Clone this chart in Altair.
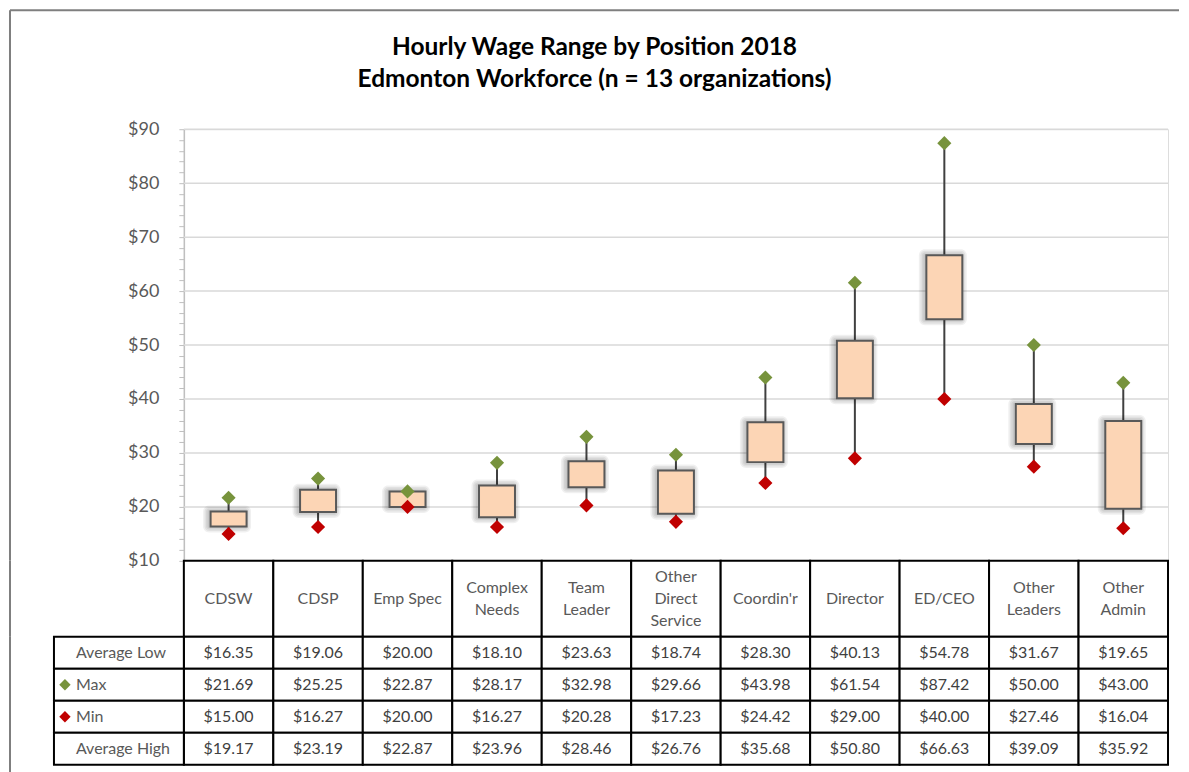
import altair as alt
import pandas as pd

# ---------------- data ----------------
categories = ["CDSW", "CDSP", "Emp Spec", "Complex Needs", "Team Leader",
              "Other Direct Service", "Coordin'r", "Director", "ED/CEO",
              "Other Leaders", "Other Admin"]
header_labels = ["CDSW", "CDSP", "Emp Spec", "Complex\nNeeds", "Team\nLeader",
                 "Other\nDirect\nService", "Coordin'r", "Director", "ED/CEO",
                 "Other\nLeaders", "Other\nAdmin"]
avg_low = [16.35, 19.06, 20.00, 18.10, 23.63, 18.74, 28.30, 40.13, 54.78, 31.67, 19.65]
max_wage = [21.69, 25.25, 22.87, 28.17, 32.98, 29.66, 43.98, 61.54, 87.42, 50.00, 43.00]
min_wage = [15.00, 16.27, 20.00, 16.27, 20.28, 17.23, 24.42, 29.00, 40.00, 27.46, 16.04]
avg_high = [19.17, 23.19, 22.87, 23.96, 28.46, 26.76, 35.68, 50.80, 66.63, 39.09, 35.92]
row_names = ["Average Low", "Max", "Min", "Average High"]
y_major = list(range(10, 91, 10))
y_minor = list(range(10, 91, 2))

title_lines = ["Hourly Wage Range by Position 2018",
               "Edmonton Workforce (n = 13 organizations)"]

# ---------------- layout / style ----------------
FONT = "Lato"
PLOT_W = 985
PLOT_H = 432
HEAD_H = 76
ROW_H = 32
LINE_H = 22
LABEL_W = 130
FRAME_X = -174
FRAME_TOP = -119
FRAME_RIGHT = 996
GREEN = "#77933C"
RED = "#C00000"
BOX_FILL = "#FCD5B5"

n_lines = [h.count("\n") + 1 for h in header_labels]
df = pd.DataFrame({"category": categories, "header": header_labels,
                   "first_line": [(n - 1) / 2 for n in n_lines],
                   "low": avg_low, "max": max_wage, "min": min_wage,
                   "high": avg_high})
one = pd.DataFrame({"frame": [1]})

xscale = alt.Scale(domain=categories, paddingInner=0, paddingOuter=0)
X = alt.X("category:N", scale=xscale, axis=None)
yscale = alt.Scale(domain=[10, 90], nice=False, zero=False)

yaxis = alt.Axis(values=y_minor, orient="left",
                 labelExpr="datum.value % 10 == 0 ? '$' + datum.value : ''",
                 grid=False, domainColor="#BFBFBF", domainWidth=1.5,
                 tickColor="#BFBFBF", tickSize=5, tickWidth=1,
                 labelFont=FONT, labelFontSize=18, labelColor="#595959",
                 labelPadding=20, labelOverlap=False, labelBound=False,
                 title=None)


def Yq(field):
    return alt.Y(field, scale=yscale, axis=yaxis, title=None)


frame_top = alt.Chart(one).mark_rule(color="#7F7F7F", strokeWidth=2).encode(
    x=alt.value(FRAME_X), x2=alt.value(FRAME_RIGHT), y=alt.value(FRAME_TOP))
frame_left = alt.Chart(one).mark_rule(color="#7F7F7F", strokeWidth=2).encode(
    x=alt.value(FRAME_X), y=alt.value(FRAME_TOP), y2=alt.value(PLOT_H))

grid = alt.Chart(pd.DataFrame({"v": y_major[1:]})).mark_rule(
    color="#D9D9D9", strokeWidth=1.5).encode(
    y=Yq("v:Q"), x=alt.value(0), x2=alt.value(PLOT_W))

base = alt.Chart(df)
whisker = base.mark_rule(color="#404040", strokeWidth=2).encode(
    x=X, y=Yq("min:Q"), y2="max:Q")

shadows = []
for k in [3, 6, 9, 12]:
    shadows.append(base.mark_bar(size=36 + k, color="black", opacity=0.06,
                                 xOffset=-1.5, yOffset=k / 2, y2Offset=-k / 2,
                                 cornerRadius=k / 2).encode(
        x=X, y=Yq("low:Q"), y2="high:Q"))

box = base.mark_bar(size=36, fill=BOX_FILL, stroke="#595959", strokeWidth=2).encode(
    x=X, y=Yq("low:Q"), y2="high:Q")

max_pt = base.mark_point(shape="diamond", filled=True, size=200, color=GREEN,
                         opacity=1).encode(x=X, y=Yq("max:Q"))
min_pt = base.mark_point(shape="diamond", filled=True, size=200, color=RED,
                         opacity=1).encode(x=X, y=Yq("min:Q"))

top = alt.layer(frame_top, frame_left, grid, whisker, *shadows, box, max_pt,
                min_pt).properties(width=PLOT_W, height=PLOT_H)

# ---------------- header row ----------------
half_lines = HEAD_H / LINE_H / 2
hdr_cells = alt.Chart(df).mark_rect(fill="white", stroke="black", strokeWidth=2).encode(
    x=X, y=alt.value(0), y2=alt.value(HEAD_H))
hdr_text = alt.Chart(df).mark_text(font=FONT, fontSize=16, color="#595959",
                                   lineBreak="\n", lineHeight=LINE_H,
                                   baseline="middle").encode(
    x=X,
    y=alt.Y("first_line:Q", scale=alt.Scale(domain=[-half_lines, half_lines],
                                            nice=False, zero=False), axis=None),
    text="header:N")
hdr_frame = alt.Chart(one).mark_rule(color="#7F7F7F", strokeWidth=2).encode(
    x=alt.value(FRAME_X), y=alt.value(0), y2=alt.value(HEAD_H))
header = alt.layer(hdr_frame, hdr_cells, hdr_text).properties(width=PLOT_W, height=HEAD_H)

# ---------------- data rows ----------------
series = {"Average Low": avg_low, "Max": max_wage, "Min": min_wage,
          "Average High": avg_high}
long = pd.DataFrame([{"category": c, "row": r, "value": v}
                     for r in row_names for c, v in zip(categories, series[r])])
rows_df = pd.DataFrame({"row": row_names})
marker_df = pd.DataFrame({"row": ["Max", "Min"]})

Y = alt.Y("row:N", scale=alt.Scale(domain=row_names, paddingInner=0, paddingOuter=0),
          axis=None)

cells = alt.Chart(long).mark_rect(fill="white", stroke="black", strokeWidth=2).encode(
    x=X, y=Y)
vals = alt.Chart(long).mark_text(font=FONT, fontSize=16, color="#404040").encode(
    x=X, y=Y, text=alt.Text("value:Q", format="$.2f"))
lab_cells = alt.Chart(rows_df).mark_rect(fill="white", stroke="black", strokeWidth=2).encode(
    x=alt.value(-LABEL_W), x2=alt.value(0), y=Y)
lab_text = alt.Chart(rows_df).mark_text(font=FONT, fontSize=16, color="#595959",
                                        align="left").encode(
    x=alt.value(-LABEL_W + 22), y=Y, text="row:N")
markers = alt.Chart(marker_df).mark_point(shape="diamond", filled=True, size=130,
                                          opacity=1).encode(
    x=alt.value(-LABEL_W + 11), y=Y,
    color=alt.Color("row:N", scale=alt.Scale(domain=["Max", "Min"], range=[GREEN, RED]),
                    legend=None))
tbl_frame = alt.Chart(one).mark_rule(color="#7F7F7F", strokeWidth=2).encode(
    x=alt.value(FRAME_X), y=alt.value(0), y2=alt.value(4 * ROW_H + 20))
table = alt.layer(tbl_frame, cells, vals, lab_cells, lab_text, markers).properties(
    width=PLOT_W, height=4 * ROW_H)

chart = alt.vconcat(top, header, table, spacing=0, bounds="flush").properties(
    title=alt.Title(title_lines, font=FONT, fontSize=24.5, fontWeight="bold",
                    color="black", anchor="middle", frame="bounds",
                    offset=-84, lineHeight=32),
    padding=0,
).configure_view(strokeWidth=0, stroke="transparent").configure(font=FONT)

chart.save("out.html", embed_options={"renderer": "svg", "actions": False})
